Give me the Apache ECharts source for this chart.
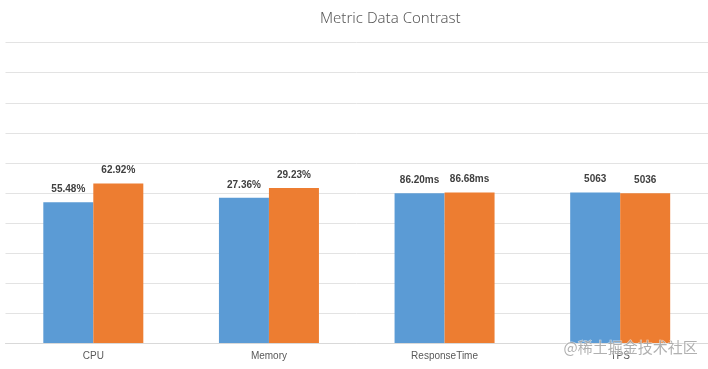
<!DOCTYPE html>
<html>
<head>
<meta charset="utf-8">
<script src="https://cdn.jsdelivr.net/npm/echarts@6/dist/echarts.min.js"></script>
<style>html,body{margin:0;padding:0;background:#fff}#c{width:708px;height:369px}</style>
</head>
<body>
<div id="c"></div>
<script>
var titleText = 'Metric Data Contrast';
var categories = ['CPU', 'Memory', 'ResponseTime', 'TPS'];
var seriesA = [55.48, 27.36, 86.20, 5063];
var seriesB = [62.92, 29.23, 86.68, 5036];
var labelsA = ['55.48%', '27.36%', '86.20ms', '5063'];
var labelsB = ['62.92%', '29.23%', '86.68ms', '5036'];
var watermark = '@稀土掘金技术社区';

// bar heights: each value as share of its pair (percent), labels show raw values
var shareA = seriesA.map(function (v, i) { return v / (v + seriesB[i]) * 100; });
var shareB = seriesB.map(function (v, i) { return v / (seriesA[i] + v) * 100; });

var chart = echarts.init(document.getElementById('c'));
var labelStyle = function (arr) {
  return {
    show: true, position: 'top', distance: 8,
    fontFamily: 'Liberation Sans, Arial, sans-serif', fontWeight: 'bold', fontSize: 10,
    color: '#404040',
    formatter: function (p) { return arr[p.dataIndex]; }
  };
};
chart.setOption({
  animation: false,
  title: {
    text: titleText, left: 315, top: 6,
    textStyle: { fontFamily: 'Noto Sans, Open Sans, sans-serif', fontWeight: 300, fontSize: 15, color: '#595959' }
  },
  grid: { left: 5.5, right: -1.5, top: 42.7, bottom: 26, containLabel: false },
  xAxis: {
    type: 'category', data: categories,
    axisLine: { lineStyle: { color: '#d9d9d9', width: 1 } },
    axisTick: { show: false },
    axisLabel: { color: '#595959', fontSize: 10, margin: 8, fontFamily: 'Liberation Sans, Arial, sans-serif' }
  },
  yAxis: {
    type: 'value', min: 0, max: 100, interval: 10,
    axisLabel: { show: false }, axisLine: { show: false }, axisTick: { show: false },
    splitLine: { lineStyle: { color: '#e3e3e3', width: 1 } }
  },
  series: [
    { type: 'bar', data: shareA, barWidth: 50, barGap: '0%', itemStyle: { color: '#5b9bd5' }, label: labelStyle(labelsA) },
    { type: 'bar', data: shareB, barWidth: 50, barGap: '0%', itemStyle: { color: '#ed7d31' }, label: labelStyle(labelsB) }
  ],
  graphic: [{
    type: 'text', left: 563, top: 339, z: 100,
    style: {
      text: watermark, fontSize: 15, fontFamily: 'Noto Sans CJK SC, sans-serif',
      fill: 'rgba(150,150,150,0.75)', stroke: 'rgba(255,255,255,0.6)', lineWidth: 1
    }
  }]
});
</script>
</body>
</html>
